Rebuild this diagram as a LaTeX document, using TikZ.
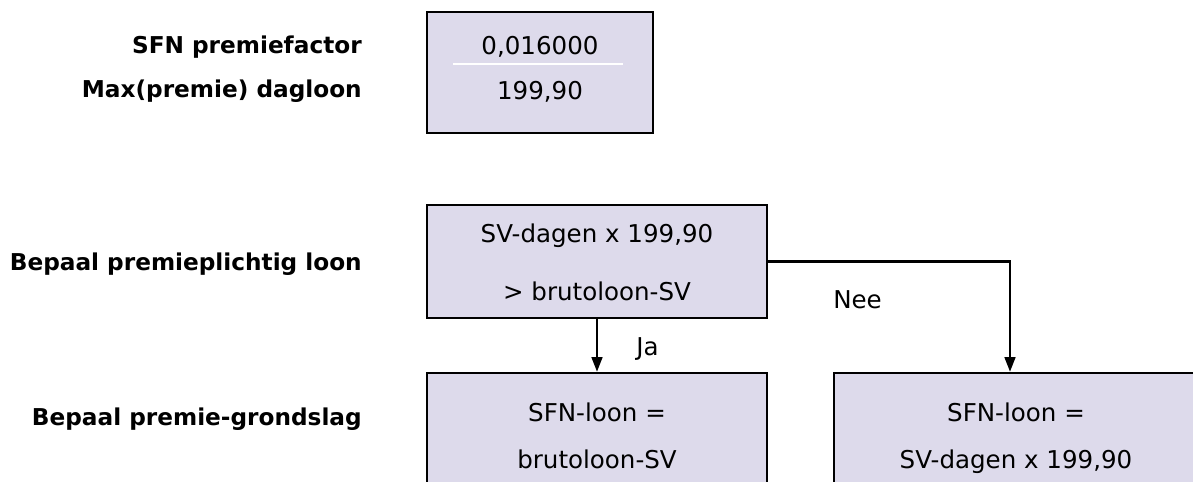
\documentclass[tikz,border=0pt]{standalone}
\usepackage{fontspec}
\setmainfont{DejaVu Sans}
\usepackage{tikz}
\usetikzlibrary{arrows.meta}
\usetikzlibrary{positioning}
\definecolor{boxfill}{RGB}{221,218,235}
\tikzset{box/.style = {draw, line width=1.8pt, fill=boxfill, inner sep=0pt}}
\tikzset{txt/.style = {anchor=base, inner sep=0pt, font=\fontsize{18.4}{22}\selectfont}}
\tikzset{lbl/.style = {anchor=base east, inner sep=0pt, font=\bfseries\fontsize{17.4}{21}\selectfont}}
\tikzset{flow/.style = {line width=1.8pt, -{Triangle[length=11pt,width=8pt]}}}

\begin{document}
\begin{tikzpicture}[x=0.75pt,y=-0.75pt]
        \useasboundingbox (0,0) rectangle (1193,482);
        % boxes
        \node[box, minimum width=169.5pt, minimum height=90.75pt] (factor) at (540,72.5) {};
        \node[box, minimum width=255pt, minimum height=84.75pt] (cond) at (597,261.5) {};
        \node[box, minimum width=255pt, minimum height=112.5pt] (yes) at (597,448) {};
        \node[box, minimum width=273pt, minimum height=112.5pt] (no) at (1016,448) {};
        \draw [white, line width=1.8pt] (453,64) -- (623,64);
        % texts in the boxes
        \node[txt] (factor1) at (540,54) {0,016000};
        \node[txt] (factor2) at (540,99) {199,90};
        \node[txt] (cond1) at (597,242) {SV-dagen x 199,90};
        \node[txt] (cond2) at (597,300) {> brutoloon-SV};
        \node[txt] (yes1) at (597,421) {SFN-loon =};
        \node[txt] (yes2) at (597,468) {brutoloon-SV};
        \node[txt] (no1) at (1016,421) {SFN-loon =};
        \node[txt] (no2) at (1016,468) {SV-dagen x 199,90};
        % labels on the left
        \node[lbl] (lfactor) at (362,53) {SFN premiefactor};
        \node[lbl] (lmax) at (362,97) {Max(premie) dagloon};
        \node[lbl] (lloon) at (362,270) {Bepaal premieplichtig loon};
        \node[lbl] (lbasis) at (362,425) {Bepaal premie-grondslag};
        % arrows
        \draw [flow] (cond.south) -- (yes.north);
        \draw [flow] (cond.east) -| ([xshift=-4.5pt]no.north);
        \node[txt, anchor=base west] (ja) at (636,355) {Ja};
        \node[txt, anchor=base west] (nee) at (833,308) {Nee};
    \end{tikzpicture}
\end{document}
